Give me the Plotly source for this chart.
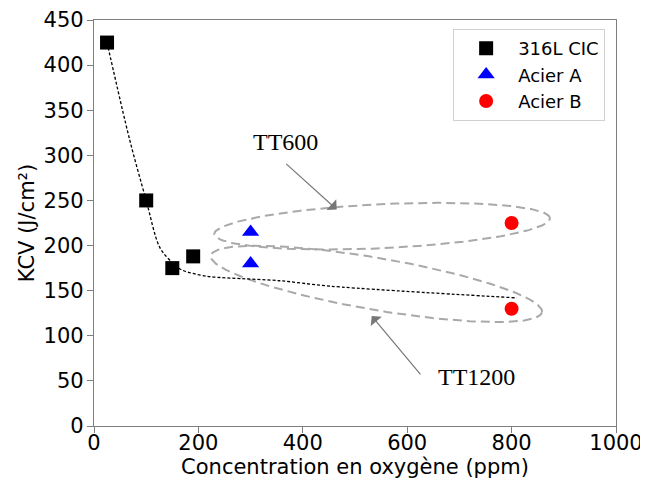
import numpy as np
import plotly.graph_objects as go

# ---- data ----
cic_x = [25, 100, 150, 190]
cic_y = [425, 250, 175, 188]
acierA_x = [300, 300]
acierA_y = [215, 180]
acierB_x = [800, 800]
acierB_y = [225, 130]

# trend (dotted) line
trend_x = [25, 68, 100, 126, 150, 168, 216, 260, 356, 452, 810]
trend_y = [425, 318, 250, 198, 181, 173, 166, 164, 161, 155, 142]

x_ticks = [0, 200, 400, 600, 800, 1000]
y_ticks = [0, 50, 100, 150, 200, 250, 300, 350, 400, 450]

# ---- layout geometry (page body adds an 8px offset) ----
W, H = 640, 476
ML, MR, MT, MB = 86, 32, 12, 58
XR = (0, 1000)
YR = (0, 450)
pxx = (W - ML - MR) / (XR[1] - XR[0])
pxy = (H - MT - MB) / (YR[1] - YR[0])

FONT = "DejaVu Sans"
GRID = "#7f7f7f"


def ellipse(cx, cy, a_px, b_px, ang_deg, n=200):
    t = np.linspace(0, 2 * np.pi, n)
    th = np.radians(ang_deg)
    dx = a_px * np.cos(t) * np.cos(th) - b_px * np.sin(t) * np.sin(th)
    dy = a_px * np.cos(t) * np.sin(th) + b_px * np.sin(t) * np.cos(th)
    return cx + dx / pxx, cy + dy / pxy


fig = go.Figure()

# ellipses (TT600 / TT1200 groups)
for (cx, cy, a, b, ang) in [(552, 221.5, 168, 22, 2.7), (541, 157.5, 168, 26, -9.7)]:
    ex, ey = ellipse(cx, cy, a, b, ang)
    fig.add_trace(go.Scatter(x=ex, y=ey, mode="lines", showlegend=False, hoverinfo="skip",
                             line=dict(color="#a9a9a9", width=2, dash="9px,5px")))

fig.add_trace(go.Scatter(x=trend_x, y=trend_y, mode="lines", showlegend=False, hoverinfo="skip",
                         line=dict(color="black", width=1.3, dash="3px,2px", shape="spline", smoothing=0.9)))

fig.add_trace(go.Scatter(x=cic_x, y=cic_y, mode="markers", name="316L CIC",
                         marker=dict(symbol="square", size=14, color="black")))
fig.add_trace(go.Scatter(x=acierA_x, y=acierA_y, mode="markers", name="Acier A",
                         marker=dict(symbol="triangle-up", size=15, color="blue")))
fig.add_trace(go.Scatter(x=acierB_x, y=acierB_y, mode="markers", name="Acier B",
                         marker=dict(symbol="circle", size=14, color="red")))

# arrows + labels
fig.add_annotation(x=465, y=240, ax=-52, ay=-47, text="", showarrow=True,
                   arrowhead=1, arrowsize=2, arrowwidth=1.2, arrowcolor="#777777")
fig.add_annotation(x=532, y=122, ax=50, ay=60, text="", showarrow=True,
                   arrowhead=1, arrowsize=2, arrowwidth=1.2, arrowcolor="#777777")
fig.add_annotation(x=366, y=315, text="TT600", showarrow=False,
                   font=dict(family="Liberation Serif", size=24, color="black"))
fig.add_annotation(x=732, y=54, text="TT1200", showarrow=False,
                   font=dict(family="Liberation Serif", size=24, color="black"))

axis_common = dict(showgrid=False, zeroline=False, showline=True, mirror=True,
                   linecolor=GRID, linewidth=1.2, ticks="outside", ticklen=6,
                   tickcolor=GRID, tickwidth=1.2, automargin=False,
                   ticklabeloverflow="allow",
                   tickfont=dict(family=FONT, size=21, color="black"))

fig.update_layout(
    width=W, height=H, autosize=False,
    margin=dict(l=ML, r=MR, t=MT, b=MB),
    paper_bgcolor="white", plot_bgcolor="white",
    font=dict(family=FONT, color="black"),
    xaxis=dict(range=list(XR), tickvals=x_ticks, ticktext=[str(v) for v in x_ticks],
               ticklabelstandoff=-8,
               title=dict(text="Concentration en oxygène (ppm)", font=dict(family=FONT, size=21), standoff=4),
               **axis_common),
    yaxis=dict(range=list(YR), tickvals=y_ticks, ticktext=[str(v) for v in y_ticks],
               ticklabelstandoff=-1,
               title=dict(text="KCV (J/cm²)", font=dict(family=FONT, size=21), standoff=3),
               **axis_common),
    legend=dict(x=0.688, y=0.978, xanchor="left", yanchor="top",
                bgcolor="white", bordercolor="#d0d0d0", borderwidth=1,
                font=dict(family=FONT, size=18), itemwidth=54),
)

fig.write_html("out.html")
